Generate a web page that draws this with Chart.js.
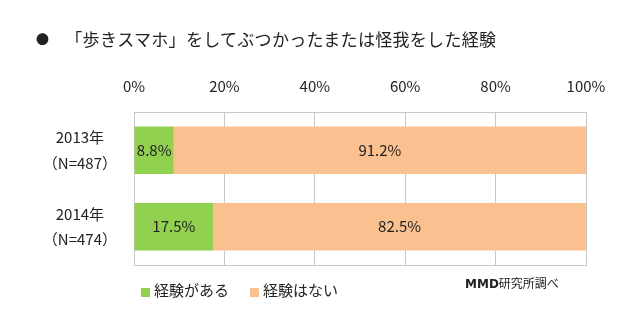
<!DOCTYPE html>
<html>
<head>
<meta charset="utf-8">
<script src="https://cdn.jsdelivr.net/npm/chart.js@4"></script>
<style>
  html, body { margin: 0; padding: 0; background: #fff; }
  #wrap { position: relative; width: 640px; height: 330px; font-family: "Noto Sans CJK JP", sans-serif; color: #222; }
  #title { position: absolute; left: 36px; top: 26px; font-size: 17px; letter-spacing: 0.3px; white-space: nowrap; }
  #title .dot { font-size: 13px; margin-right: 16px; vertical-align: 2px; }
  .legend { position: absolute; top: 279px; font-size: 15px; white-space: nowrap; }
  .legend i { display: inline-block; width: 9px; height: 9px; margin-right: 4px; vertical-align: -1px; }
  #source { position: absolute; left: 465px; top: 274px; font-size: 12px; white-space: nowrap; }
  #source b { font-family: "DejaVu Sans", sans-serif; font-weight: 900; }
</style>
</head>
<body>
<div id="wrap">
  <canvas id="chart" width="640" height="330"></canvas>
  <div id="title"><span class="dot">●</span>「歩きスマホ」をしてぶつかったまたは怪我をした経験</div>
  <div class="legend" style="left:141px"><i style="background:#92D050"></i>経験がある</div>
  <div class="legend" style="left:250px"><i style="background:#FAC090"></i>経験はない</div>
  <div id="source"><b>MMD</b>研究所調べ</div>
</div>
<script>
const categories = [['2013年', '（N=487）'], ['2014年', '（N=474）']];
const seriesNames = ['経験がある', '経験はない'];
const yesValues = [8.8, 17.5];
const noValues = [91.2, 82.5];
const tickValues = [0, 20, 40, 60, 80, 100];

const gridColor = '#c8c8c8';
const textColor = '#222';
const jpFont = '"Noto Sans CJK JP", sans-serif';

// draw value labels in the middle of each bar segment
const barLabels = {
  id: 'barLabels',
  afterDatasetsDraw(chart) {
    const ctx = chart.ctx;
    ctx.save();
    ctx.font = '15px ' + jpFont;
    ctx.fillStyle = textColor;
    ctx.textAlign = 'center';
    ctx.textBaseline = 'middle';
    chart.data.datasets.forEach((ds, i) => {
      chart.getDatasetMeta(i).data.forEach((bar, j) => {
        const p = bar.getCenterPoint();
        ctx.fillText(ds.data[j].toFixed(1) + '%', p.x, p.y);
      });
    });
    ctx.restore();
  }
};

new Chart(document.getElementById('chart'), {
  type: 'bar',
  data: {
    labels: categories,
    datasets: [
      { label: seriesNames[0], data: yesValues, backgroundColor: '#92D050' },
      { label: seriesNames[1], data: noValues, backgroundColor: '#FAC090' }
    ]
  },
  options: {
    indexAxis: 'y',
    responsive: false,
    animation: false,
    layout: { padding: { top: 0, right: 54, bottom: 65, left: 0 } },
    datasets: { bar: { categoryPercentage: 1, barPercentage: 0.62, borderWidth: 0 } },
    scales: {
      x: {
        position: 'top',
        stacked: true,
        min: 0,
        max: 100,
        afterBuildTicks: (scale) => { scale.ticks = tickValues.map(v => ({ value: v })); },
        afterFit: (scale) => { scale.height = 112; },
        ticks: {
          padding: 17,
          color: textColor,
          font: { family: jpFont, size: 15 },
          callback: (v) => v + '%'
        },
        grid: { color: gridColor, drawTicks: false },
        border: { color: gridColor }
      },
      xb: {
        type: 'linear',
        position: 'bottom',
        min: 0,
        max: 100,
        afterFit: (scale) => { scale.height = 0; },
        ticks: { display: false },
        grid: { display: false, drawTicks: false },
        border: { display: true, color: gridColor }
      },
      y: {
        stacked: true,
        afterFit: (scale) => { scale.width = 134; },
        ticks: {
          padding: 17,
          crossAlign: 'center',
          color: textColor,
          font: { family: jpFont, size: 15, lineHeight: 1.7 }
        },
        grid: { display: false, drawTicks: false },
        border: { color: gridColor }
      }
    },
    plugins: {
      legend: { display: false },
      tooltip: { enabled: false }
    }
  },
  plugins: [barLabels]
});
</script>
</body>
</html>
